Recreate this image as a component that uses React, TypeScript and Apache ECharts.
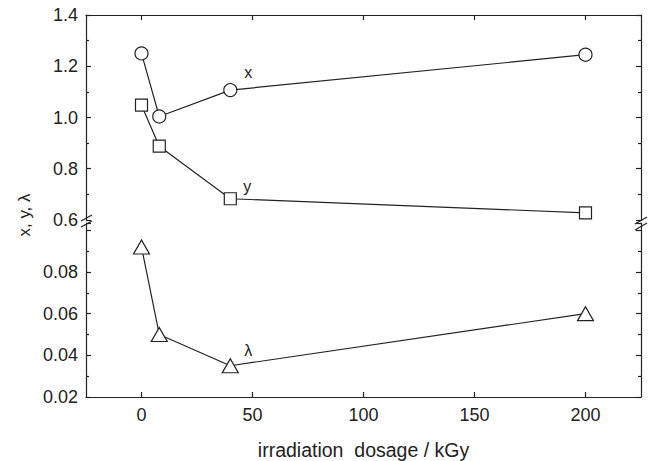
import React, { useEffect, useRef } from "react";
import * as echarts from "echarts";

const dose = [0, 8, 40, 200];
const xVals = [1.25, 1.004, 1.107, 1.245];
const yVals = [1.048, 0.888, 0.683, 0.628];
const lambdaVals = [0.092, 0.05, 0.035, 0.06];
const xTickValues = [0, 50, 100, 150, 200];
const seriesNames = ["x", "y", "λ"];

const INK = "#222";
const FONT = "'Liberation Sans', Arial, sans-serif";

export default function App() {
  const ref = useRef<HTMLDivElement>(null);
  useEffect(() => {
    if (!ref.current) return;
    const chart = echarts.init(ref.current, undefined, { renderer: "svg" });
    const line = { color: INK, width: 1.2 };
    const mk = (vals: number[], labelText: string, offset: number[]) =>
      vals.map((v, i) => ({
        value: [dose[i], v],
        label:
          i === 2
            ? {
                show: true,
                formatter: labelText,
                position: "inside",
                offset,
                color: INK,
                fontSize: 16,
                fontFamily: FONT,
              }
            : { show: false },
      }));
    const baseY = {
      type: "value",
      axisLine: { show: true, onZero: false, lineStyle: line },
      axisTick: { show: true, inside: true, length: 5, lineStyle: line },
      minorTick: { show: true, splitNumber: 2, length: 3, lineStyle: line },
      splitLine: { show: false },
      minorSplitLine: { show: false },
    };
    const option: any = {
      animation: false,
      backgroundColor: "#fff",
      grid: [
        { left: 86, right: 9, top: 15, height: 205 },
        { left: 86, right: 9, top: 223, height: 176 },
      ],
      xAxis: [
        {
          type: "value",
          gridIndex: 0,
          min: -25,
          max: 225,
          position: "top",
          axisLine: { show: true, onZero: false, lineStyle: line },
          axisTick: { show: true, inside: true, length: 5, lineStyle: line, customValues: xTickValues },
          axisLabel: { show: false },
          splitLine: { show: false },
        },
        {
          type: "value",
          gridIndex: 1,
          min: -25,
          max: 225,
          position: "bottom",
          axisLine: { show: true, onZero: false, lineStyle: line },
          axisTick: { show: true, inside: true, length: 5, lineStyle: line, customValues: xTickValues },
          axisLabel: {
            customValues: xTickValues,
            color: INK,
            fontSize: 18,
            fontFamily: FONT,
            margin: 9,
          },
          splitLine: { show: false },
          name: "irradiation  dosage / kGy",
          nameLocation: "middle",
          nameGap: 43,
          nameTextStyle: { color: INK, fontSize: 19.5, fontFamily: FONT },
        },
      ],
      yAxis: [
        {
          ...baseY,
          gridIndex: 0,
          min: 0.6,
          max: 1.4,
          interval: 0.2,
          position: "left",
          axisLabel: {
            color: INK,
            fontSize: 18,
            fontFamily: FONT,
            margin: 8,
            formatter: (v: number) => v.toFixed(1),
          },
        },
        {
          ...baseY,
          gridIndex: 0,
          min: 0.6,
          max: 1.4,
          interval: 0.2,
          position: "right",
          axisLabel: { show: false },
        },
        {
          ...baseY,
          gridIndex: 1,
          min: 0.02,
          max: 0.1035,
          interval: 0.02,
          position: "left",
          axisLabel: {
            color: INK,
            fontSize: 18,
            fontFamily: FONT,
            margin: 8,
            formatter: (v: number) => {
              const k = v / 0.02;
              return Math.abs(k - Math.round(k)) < 1e-6 && v < 0.095 ? v.toFixed(2) : "";
            },
          },
        },
        {
          ...baseY,
          gridIndex: 1,
          min: 0.02,
          max: 0.1035,
          interval: 0.02,
          position: "right",
          axisLabel: { show: false },
        },
      ],
      series: [
        {
          name: seriesNames[0],
          type: "line",
          xAxisIndex: 0,
          yAxisIndex: 0,
          data: mk(xVals, seriesNames[0], [18, -18]),
          symbol: "circle",
          symbolSize: 13,
          lineStyle: line,
          itemStyle: { color: "#fff", borderColor: INK, borderWidth: 1.2 },
        },
        {
          name: seriesNames[1],
          type: "line",
          xAxisIndex: 0,
          yAxisIndex: 0,
          data: mk(yVals, seriesNames[1], [17, -12]),
          symbol: "rect",
          symbolSize: 12,
          lineStyle: line,
          itemStyle: { color: "#fff", borderColor: INK, borderWidth: 1.2 },
        },
        {
          name: seriesNames[2],
          type: "line",
          xAxisIndex: 1,
          yAxisIndex: 2,
          data: mk(lambdaVals, seriesNames[2], [18, -15]),
          symbol: "triangle",
          symbolSize: [16, 14],
          lineStyle: line,
          itemStyle: { color: "#fff", borderColor: INK, borderWidth: 1.2 },
        },
      ],
      graphic: [
        {
          type: "text",
          x: 24,
          y: 215,
          rotation: Math.PI / 2,
          style: {
            text: "x, y, λ",
            fill: INK,
            fontSize: 17,
            fontFamily: FONT,
            textAlign: "center",
            textVerticalAlign: "middle",
          },
        },
        { type: "rect", shape: { x: 84, y: 219, width: 5, height: 5 }, style: { fill: "#fff" } },
        { type: "line", shape: { x1: 81, y1: 221, x2: 92, y2: 215 }, style: { stroke: INK, lineWidth: 1.2 } },
        { type: "line", shape: { x1: 81, y1: 227, x2: 92, y2: 221 }, style: { stroke: INK, lineWidth: 1.2 } },
        { type: "rect", shape: { x: 639, y: 219, width: 5, height: 5 }, style: { fill: "#fff" } },
        { type: "line", shape: { x1: 635, y1: 224, x2: 647, y2: 217 }, style: { stroke: INK, lineWidth: 1.2 } },
        { type: "line", shape: { x1: 635, y1: 230, x2: 647, y2: 223 }, style: { stroke: INK, lineWidth: 1.2 } },
      ],
    };
    chart.setOption(option);
    return () => chart.dispose();
  }, []);
  return <div ref={ref} style={{ width: 650, height: 461, position: "absolute", left: 0, top: 0 }} />;
}
